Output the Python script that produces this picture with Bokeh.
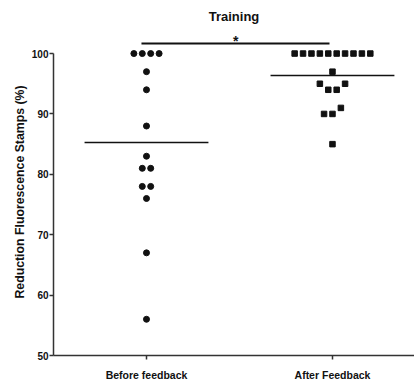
from bokeh.plotting import figure
from bokeh.models import Range1d, FixedTicker
from bokeh.core.properties import value
from bokeh.embed import file_html
from bokeh.resources import INLINE

# Reduction of fluorescence stamps (%) per trainee, before and after feedback
# (values kept in entry order)
groups = ["Before feedback", "After Feedback"]
before = [100, 100, 100, 100, 97, 94, 88, 83, 81, 81, 78, 78, 76, 67, 56]
after = [100, 100, 100, 100, 100, 100, 100, 100, 100, 100,
         97, 95, 94, 94, 95, 90, 90, 91, 85]
y_ticks = [50, 60, 70, 80, 90, 100]
significance = "*"

FONT = "Liberation Sans"
INK = "#111111"
AXIS = "#333333"
SLOT = 0.0452        # horizontal step between neighbouring points in a row
ROW_GAP = 1.0        # values this close are laid out in the same row
MEAN_HALF = 0.333    # half-width of the mean bar


def swarm(vals, center):
    """Column scatter: close values share a row, spread left to right in entry order."""
    rows = []
    for v in sorted(set(vals), reverse=True):
        if rows and rows[-1][-1] - v <= ROW_GAP:
            rows[-1].append(v)
        else:
            rows.append([v])
    xs, ys = [], []
    for row in rows:
        members = [v for v in vals if v in row]
        n = len(members)
        for k, v in enumerate(members):
            xs.append(center + (k - (n - 1) / 2) * SLOT)
            ys.append(v)
    return xs, ys


p = figure(width=414, height=387, output_backend="svg", toolbar_location=None,
           x_range=Range1d(0.5, 2.441), y_range=Range1d(50, 104.15),
           min_border_left=53, min_border_right=0, min_border_top=28,
           min_border_bottom=32, background_fill_color="white",
           border_fill_color="white", outline_line_color=None)

p.title.text = "Training"
p.title.align = "center"
p.title.text_font = FONT
p.title.text_font_size = "13px"
p.title.text_font_style = "bold"
p.title.text_color = INK
p.title.standoff = 9

p.xgrid.visible = False
p.ygrid.visible = False

# y axis
ya = p.yaxis[0]
ya.ticker = FixedTicker(ticks=y_ticks)
ya.bounds = (50, 100)
ya.axis_label = "Reduction Fluorescence Stamps (%)"
ya.axis_label_text_font = FONT
ya.axis_label_text_font_size = "12.3px"
ya.axis_label_text_font_style = "bold"
ya.axis_label_text_color = INK
ya.axis_label_standoff = 2
ya.major_label_text_font = FONT
ya.major_label_text_font_size = "10px"
ya.major_label_text_font_style = "bold"
ya.major_label_text_color = INK
ya.major_label_standoff = 1
ya.major_tick_in = 0
ya.major_tick_out = 4
ya.minor_tick_line_color = None
ya.axis_line_width = 1.5
ya.axis_line_color = AXIS
ya.major_tick_line_color = AXIS
ya.major_tick_line_width = 1.5

# x axis
xa = p.xaxis[0]
xa.ticker = FixedTicker(ticks=[1, 2])
xa.major_label_overrides = {1: groups[0], 2: groups[1]}
xa.major_label_text_font = FONT
xa.major_label_text_font_size = "10.5px"
xa.major_label_text_font_style = "bold"
xa.major_label_text_color = INK
xa.major_label_standoff = 9
xa.major_tick_in = 0
xa.major_tick_out = 4
xa.minor_tick_line_color = None
xa.axis_line_width = 1.5
xa.axis_line_color = AXIS
xa.major_tick_line_color = AXIS
xa.major_tick_line_width = 1.5

# points
bx, by = swarm(before, 1)
ax_, ay = swarm(after, 2)
p.scatter(bx, by, marker="circle", size=6, fill_color=INK, line_color=INK)
p.scatter(ax_, ay, marker="square", size=5.5, fill_color=INK, line_color=INK)

# group means
for c, vals in ((1, before), (2, after)):
    m = sum(vals) / len(vals)
    p.line([c - MEAN_HALF, c + MEAN_HALF], [m, m], line_color=INK, line_width=1.5)

# significance bracket
p.line([0.973, 1.984], [101.65, 101.65], line_color=INK, line_width=2)
p.text([1.48], [100.8], text=[significance], text_font=value(FONT),
       text_font_size="14px", text_font_style="bold", text_color=INK,
       text_align="center", text_baseline="bottom")

open("out.html", "w").write(file_html(p, INLINE))
